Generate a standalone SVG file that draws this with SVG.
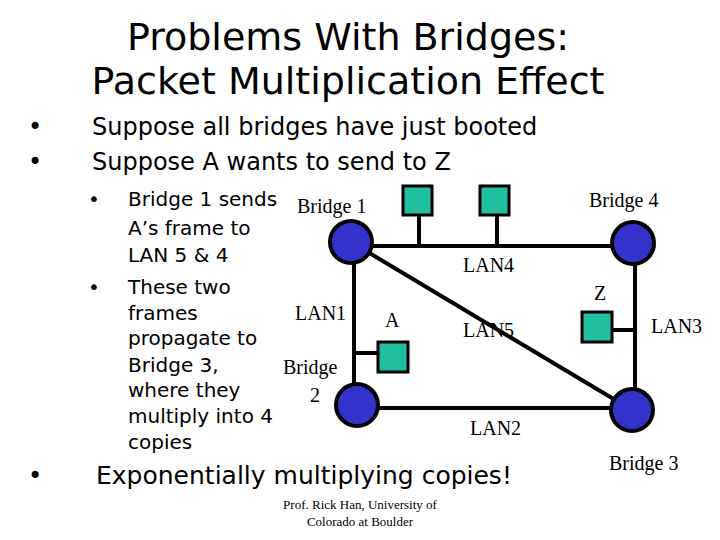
<svg xmlns="http://www.w3.org/2000/svg" width="720" height="540" viewBox="0 0 720 540">
<style>
.t{font-family:"DejaVu Sans",sans-serif;fill:#000}
.s{font-family:"Liberation Serif",serif;font-size:20px;fill:#000}
.f{font-family:"Liberation Serif",serif;font-size:13px;fill:#000}
.l{stroke:#000;stroke-width:4;fill:none}
.b{fill:#3333cc;stroke:#000;stroke-width:4}
.h{fill:#1fbf9f;stroke:#000;stroke-width:3}
</style>
<rect width="720" height="540" fill="#fff"/>
<text class="t" x="348" y="50" font-size="38" text-anchor="middle">Problems With Bridges:</text>
<text class="t" x="348" y="94" font-size="38" text-anchor="middle">Packet Multiplication Effect</text>
<g class="t" font-size="24">
<text x="28" y="135">•</text><text x="92" y="135">Suppose all bridges have just booted</text>
<text x="28" y="170">•</text><text x="92" y="170">Suppose A wants to send to Z</text>
</g>
<g class="t" font-size="20">
<text x="88" y="206">•</text><text x="128" y="206">Bridge 1 sends</text>
<text x="128" y="235">A’s frame to</text>
<text x="128" y="262">LAN 5 &amp; 4</text>
<text x="88" y="294">•</text><text x="128" y="294">These two</text>
<text x="128" y="320">frames</text>
<text x="128" y="345">propagate to</text>
<text x="128" y="372">Bridge 3,</text>
<text x="128" y="397">where they</text>
<text x="128" y="423">multiply into 4</text>
<text x="128" y="449">copies</text>
</g>
<text class="t" x="28" y="484" font-size="24">•</text>
<text class="t" x="96" y="484" font-size="25">Exponentially multiplying copies!</text>
<g id="connectors" class="l">
<line x1="351" y1="246" x2="633" y2="246"/>
<line x1="419" y1="215" x2="419" y2="246"/>
<line x1="497" y1="215" x2="497" y2="246"/>
<line x1="354" y1="242" x2="354" y2="405"/>
<line x1="354" y1="353" x2="377" y2="353"/>
<line x1="351" y1="242" x2="632" y2="410"/>
<line x1="635" y1="243" x2="635" y2="410"/>
<line x1="612" y1="330" x2="635" y2="330"/>
<line x1="357" y1="408" x2="632" y2="408"/>
</g>
<g id="bridge1"><circle class="b" cx="351" cy="242" r="21"/><text class="s" x="297" y="213">Bridge 1</text></g>
<g id="bridge4"><circle class="b" cx="633" cy="243" r="21"/><text class="s" x="589" y="207">Bridge 4</text></g>
<g id="bridge2"><circle class="b" cx="357" cy="405" r="21"/><text class="s" x="283" y="374">Bridge</text><text class="s" x="310" y="402">2</text></g>
<g id="bridge3"><circle class="b" cx="632" cy="410" r="21"/><text class="s" x="609" y="470">Bridge 3</text></g>
<g id="host1"><rect class="h" x="403" y="186" width="29" height="29"/></g>
<g id="host2"><rect class="h" x="480" y="186" width="29" height="29"/></g>
<g id="hostA"><rect class="h" x="378" y="342" width="30" height="30"/><text class="s" x="385" y="327">A</text></g>
<g id="hostZ"><rect class="h" x="582" y="312" width="30" height="30"/><text class="s" x="594" y="300">Z</text></g>
<g id="labels">
<text class="s" x="463" y="272">LAN4</text>
<text class="s" x="295" y="320">LAN1</text>
<text class="s" x="463" y="337">LAN5</text>
<text class="s" x="651" y="333">LAN3</text>
<text class="s" x="470" y="435">LAN2</text>
</g>
<text class="f" x="360" y="509" text-anchor="middle">Prof. Rick Han, University of</text>
<text class="f" x="360" y="526" text-anchor="middle">Colorado at Boulder</text>
</svg>
